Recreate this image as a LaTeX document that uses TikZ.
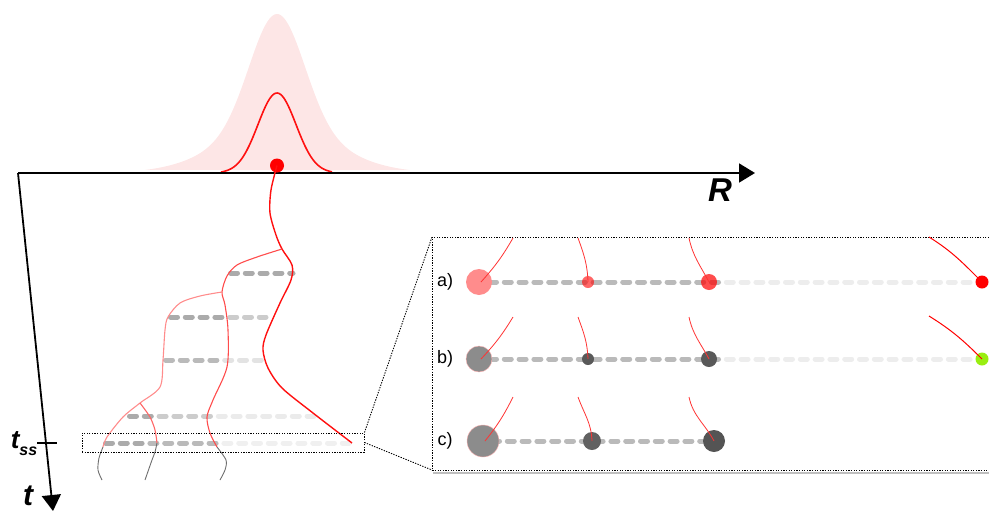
\documentclass[tikz,border=0pt]{standalone}
\usepackage{fontspec}
\setmainfont{Liberation Sans}
\usetikzlibrary{arrows.meta,positioning}

\definecolor{gausspink}{HTML}{FDE6E6}
\definecolor{trajred}{HTML}{FF1010}
\definecolor{stemgrey}{HTML}{6E6E6E}
\definecolor{limegreen}{HTML}{99EE11}

\begin{document}
\begin{tikzpicture}[x=1pt, y=-1pt,
    axis/.style={line width=1.8pt, -{Triangle[length=16pt, width=19pt]}},
    bar/.style={line width=5pt, line cap=round, dash pattern=on 7pt off 7.8pt},
    zoomline/.style={line width=0.9pt, dash pattern=on 1.3pt off 1.3pt},
    blob/.style={circle, inner sep=0pt, minimum size=#1},
    traj/.style={trajred, line width=1.4pt},
    branch/.style={line width=1.1pt},
    stem/.style={stemgrey, line width=0.9pt},
    hop/.style={red!80, line width=0.8pt},
    rowlabel/.style={font=\fontsize{18}{18}\selectfont},
    axislabel/.style={font=\fontsize{33}{33}\selectfont\bfseries\itshape, inner sep=0pt}
]
\useasboundingbox (0,0) rectangle (989,512);

% prior and posterior
\fill[gausspink] plot[domain=145:410, samples=120]
    (\x,{173-159*(0.72*exp(-((\x-277)/27)^2/2)+0.28*exp(-((\x-277)/57)^2/2))}) -- cycle;
\draw[trajred, line width=1.6pt] plot[domain=221:332, samples=70] (\x,{173-80*exp(-((\x-277)/19)^2/2)});

% axes
\coordinate (O) at (18,173);
\coordinate (Rend) at (755,173);
\coordinate (tend) at (53,511);
\draw[axis] (O) -- (Rend);
\draw[axis] (O) -- (tend);
\node[axislabel] (Rlab) at (720,190) {R};
\node[axislabel, font=\fontsize{30}{30}\selectfont\bfseries\itshape, anchor=base] (tlab) at (28,505) {t};
\coordinate (tssL) at (37,443);
\coordinate (tssR) at (57,443);
\draw[line width=1.8pt] (tssL) -- (tssR);
\node[font=\fontsize{26}{26}\selectfont\bfseries\itshape] (tss) at (24,444)
    {t\raisebox{-7pt}{\fontsize{16}{16}\selectfont ss}};

% dashed rungs
\draw[bar, black!33] (230.5,273) -- (293,273);
\draw[bar, black!33] (170.5,317) -- (222.5,317);
\draw[bar, black!20] (229.7,317) -- (266,317);
\draw[bar, black!27] (165.5,360) -- (216.9,360);
\draw[bar, black!11] (224.7,360) -- (261.3,360);
\draw[bar, black!33] (129.5,416) -- (151.3,416);
\draw[bar, black!20] (159.1,416) -- (210.5,416);
\draw[bar, black!8] (218.3,416) -- (314,416);
\draw[bar, black!33] (105.5,443) -- (142.1,443);
\draw[bar, black!27] (149.9,443) -- (216.1,443);
\draw[bar, black!6] (223.9,443) -- (349.3,443);

% trajectories
\node[blob=14pt, fill=red] (seed) at (277,165.5) {};
\coordinate (splitA) at (282,249);
\coordinate (splitB) at (222,292);
\coordinate (splitC) at (140,403);
\draw[traj] plot[smooth] coordinates {(seed.center) (271,190) (270,213) (276,235) (splitA)
    (292,265) (291,280) (280,303) (266,335) (263,350) (268,368) (282,388) (313,413) (352,443)};
\draw[branch, red!70] plot[smooth] coordinates {(splitA) (257,257) (237,265) (227,276) (splitB)
    (225,305) (228,330) (227,367) (213,400) (207,417) (210,433) (217,447)};
\draw[branch, red!45] plot[smooth] coordinates {(splitB) (200,296) (180,303) (168,317) (165,330)
    (163,360) (160,387) (splitC) (123,417) (107,437) (103,447)};
\draw[branch, red!60] plot[smooth] coordinates {(splitC) (150,417) (155,430) (157,443)};
\draw[stem] plot[smooth] coordinates {(217,447) (226,460) (225,470) (220,480)};
\draw[stem] plot[smooth] coordinates {(103,447) (99,458) (98,470) (102,480)};
\draw[stem] plot[smooth] coordinates {(157,443) (155,452) (152,460) (145,480)};

% zoom window
\node[draw, zoomline, minimum width=282pt, minimum height=19pt, inner sep=0pt] (zoom) at (223,442.5) {};
\coordinate (inTL) at (432,237);
\coordinate (inBL) at (432,470);
\coordinate (inTR) at (989,237);
\coordinate (inBR) at (989,470);
\draw[black!25, line width=2pt] (inBL) ++(1,2.5) -- (989,472.5);
\draw[zoomline] (inTR) -- (inTL) -- (inBL) -- (inBR);
\draw[zoomline] (zoom.north east) -- (inTL);
\draw[zoomline] (zoom.east) -- (inBL);

% inset rungs
\foreach \y in {282,359} {
  \draw[bar, black!27] (489.5,\y) -- (718.5,\y);
  \draw[bar, black!7] (726.3,\y) -- (970.1,\y);
}
\draw[bar, black!27] (492.5,441) -- (706.7,441);

% inset walkers
\node[blob=26pt, fill=red!45] (a1) at (479,282) {};
\node[blob=12pt, fill=red, opacity=.6] (a2) at (588,282) {};
\node[blob=16pt, fill=red, opacity=.7] (a3) at (709,282) {};
\node[blob=13pt, fill=red] (a4) at (982,282) {};
\node[blob=26pt, fill=black!45, draw=red!30, line width=.4pt] (b1) at (479,359) {};
\node[blob=12pt, fill=black!65] (b2) at (588,359) {};
\node[blob=16pt, fill=black!65] (b3) at (709,359) {};
\node[blob=13pt, fill=limegreen] (b4) at (982,359) {};
\node[blob=32pt, fill=black!45, draw=red!30, line width=.4pt] (c1) at (483,441) {};
\node[blob=18pt, fill=black!62] (c2) at (592,441) {};
\node[blob=22pt, fill=black!67] (c3) at (714,441) {};

\foreach \r/\y in {a/238, b/317, c/397} {
  \coordinate (\r s1) at (513,\y);
  \coordinate (\r s2) at (578,\y);
  \coordinate (\r s3) at (689,\y);
}
\coordinate (as4) at (929,237);
\coordinate (bs4) at (929,316);
\foreach \r in {a,b,c} {
  \draw[hop] (\r s1) to[bend left=6] ([xshift=2pt]\r1.center);
  \draw[hop] (\r s2) to[out=-70, in=92] (\r2.center);
  \draw[hop] (\r s3) to[out=-78, in=118] (\r3.center);
}
\draw[red, line width=1pt] (as4) to[out=-32, in=135] (a4.center);
\draw[red, line width=1pt] (bs4) to[out=-32, in=135] (b4.center);

\node[rowlabel] (la) at (445,282) {a)};
\node[rowlabel] (lb) at (445,359) {b)};
\node[rowlabel] (lc) at (445,441) {c)};
\end{tikzpicture}
\end{document}
